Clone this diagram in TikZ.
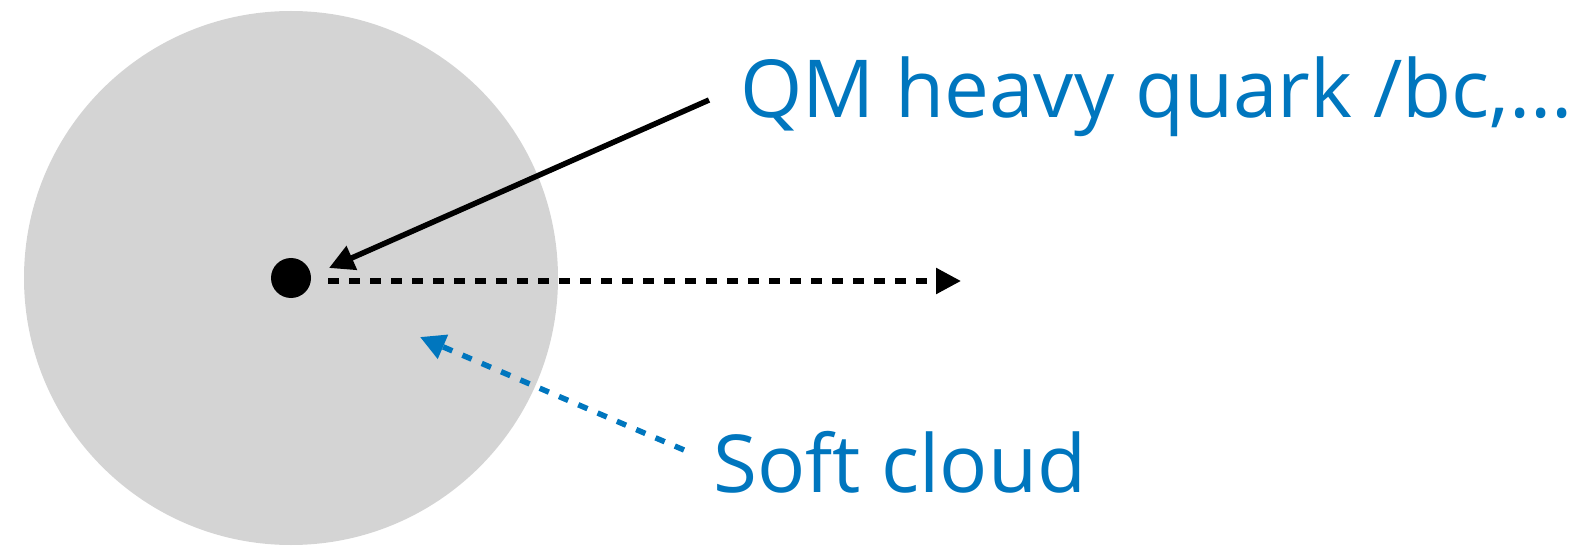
\documentclass[tikz,border=0pt]{standalone}
\usepackage{fontspec}
\setmainfont{Open Sans}
\usetikzlibrary{arrows.meta}
\definecolor{cloudgray}{RGB}{212,212,212}
\definecolor{labelblue}{RGB}{0,118,190}
\tikzset{
  lbl/.style={text=labelblue, inner sep=0pt, anchor=base west, font=\fontsize{80}{92}\selectfont},
  arr/.style={line width=5.5pt, -{Triangle[length=25pt,width=25pt]}},
}
\begin{document}
\begin{tikzpicture}[x=1pt,y=-1pt]
\useasboundingbox (0,0) rectangle (1588,548);
\fill[cloudgray] (291,278) circle[radius=267];
\node[circle, fill=black, minimum size=40pt, inner sep=0pt] (quark) at (291,278) {};
\node[lbl] (qm) at (740,118) {QM heavy quark /bc,...};
\node[lbl] (soft) at (713,492) {Soft cloud};
\coordinate (qmtail) at (709,100);
\coordinate (qmtip) at (329,268);
\coordinate (dstart) at (328,281);
\coordinate (dend) at (961,281);
\coordinate (stail) at (684,450);
\coordinate (stip) at (420,337);
\draw[arr] (qmtail) -- (qmtip);
\draw[arr, dash pattern=on 10.5pt off 10.5pt] (dstart) -- (dend);
\draw[arr, labelblue, dash pattern=on 10pt off 11pt] (stail) -- (stip);
\end{tikzpicture}
\end{document}
